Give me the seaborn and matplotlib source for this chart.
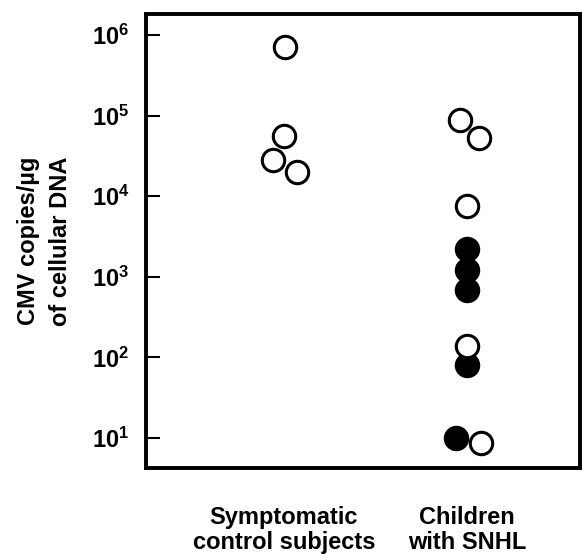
import numpy as np
import pandas as pd
import matplotlib
matplotlib.use("Agg")
import matplotlib.pyplot as plt
import seaborn as sns

# data (CMV copies per ug of cellular DNA)
groups = ["Symptomatic\ncontrol subjects", "Children\nwith SNHL"]

control_values = [7.1e5, 5.6e4, 2.8e4, 2.0e4]
control_jitter = [0.005, 0.0, -0.06, 0.07]
control_filled = [False, False, False, False]

snhl_values = [8.9e4, 5.3e4, 7.5e3, 2.2e3, 1.2e3, 6.9e2, 1.4e2, 80, 10, 8.7]
snhl_jitter = [-0.038, 0.066, 0.0, 0.0, 0.0, 0.0, 0.0, 0.0, -0.06, 0.077]
snhl_filled = [False, False, False, True, True, True, False, True, True, False]

yticks = [1e1, 1e2, 1e3, 1e4, 1e5, 1e6]
ytick_labels = [r"$\mathbf{10^{%d}}$" % int(np.log10(v)) for v in yticks]

df = pd.DataFrame({
    "group": [0] * len(control_values) + [1] * len(snhl_values),
    "copies": control_values + snhl_values,
    "jitter": control_jitter + snhl_jitter,
    "filled": control_filled + snhl_filled,
})
df["x"] = df["group"] + df["jitter"]

sns.set_theme(style="ticks")
plt.rcParams["font.family"] = ["Liberation Sans", "DejaVu Sans"]
plt.rcParams["font.weight"] = "bold"
plt.rcParams["text.color"] = "black"
plt.rcParams["xtick.color"] = "black"
plt.rcParams["ytick.color"] = "black"
plt.rcParams["axes.labelcolor"] = "black"
plt.rcParams["mathtext.fontset"] = "custom"
plt.rcParams["mathtext.rm"] = "Liberation Sans:bold"
plt.rcParams["mathtext.bf"] = "Liberation Sans:bold"

fig = plt.figure(figsize=(5.83, 5.54), dpi=100)
ax = fig.add_axes([0.2504, 0.1552, 0.7445, 0.8195])

# filled circles first, open ones drawn on top
sns.scatterplot(data=df[df["filled"]], x="x", y="copies", ax=ax,
                s=260, color="black", edgecolor="black", linewidth=2.2,
                legend=False, zorder=3)
sns.scatterplot(data=df[~df["filled"]], x="x", y="copies", ax=ax,
                s=260, color="white", edgecolor="black", linewidth=2.2,
                legend=False, zorder=4)

ax.set_yscale("log")
ax.set_ylim(10 ** 0.627, 10 ** 6.26)
ax.set_xlim(-0.754, 1.617)

ax.set_yticks(yticks)
ax.set_yticklabels(ytick_labels)
ax.yaxis.set_minor_locator(matplotlib.ticker.NullLocator())
ax.tick_params(axis="y", direction="in", length=10, width=1.5,
               labelsize=17, pad=12, color="black", labelcolor="black")

ax.set_xticks([0, 1])
ax.set_xticklabels(groups, fontsize=17, fontweight="bold", linespacing=1.15,
                   color="black")
ax.tick_params(axis="x", length=0, pad=27)

ax.set_xlabel("")
ax.set_ylabel("CMV copies/µg\nof cellular DNA", fontsize=17,
              fontweight="bold", labelpad=14, linespacing=1.5,
              color="black")

for side in ["left", "right", "top", "bottom"]:
    ax.spines[side].set_visible(True)
    ax.spines[side].set_linewidth(2.8)
    ax.spines[side].set_color("black")

fig.savefig("out.png", dpi=100)
